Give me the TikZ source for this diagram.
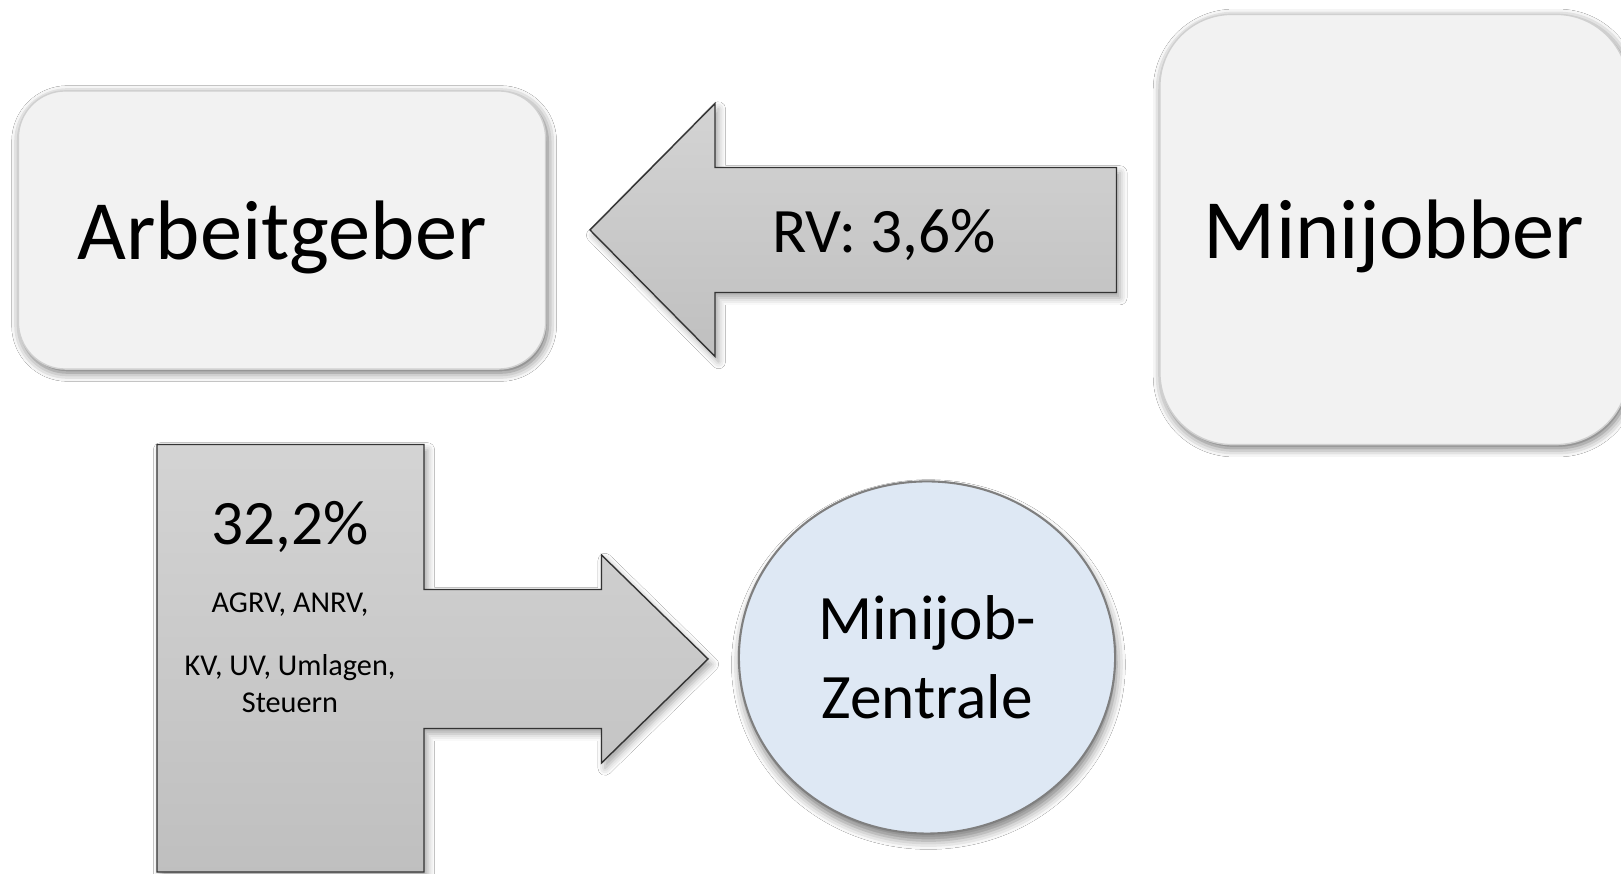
\documentclass[tikz,border=0pt]{standalone}
\usepackage{fontspec}
\setmainfont{Carlito}
\usepackage{xcolor}
\usepackage{tikz}
\usetikzlibrary{positioning, shapes.geometric, shadows.blur}

\definecolor{boxfill}{HTML}{F2F2F2}
\definecolor{boxline}{HTML}{D0D0D0}
\definecolor{zentralefill}{HTML}{DEE8F4}
\definecolor{zentraleline}{HTML}{7F7F7F}

\tikzset{
    partybox/.style={draw=boxline, fill=boxfill, line width=0.4pt, rounded corners=#1,
        inner sep=0pt, text depth=0pt, font=\fontsize{24}{29}\selectfont,
        blur shadow={shadow xshift=0.6pt, shadow yshift=-1pt, shadow blur radius=2.5pt, shadow opacity=60}},
    blockarrow/.style={draw=black!80, line width=0.4pt, top color=black!17, bottom color=black!25,
        blur shadow={shadow xshift=1pt, shadow yshift=-1.5pt, shadow blur radius=2pt, shadow opacity=35}},
    zentrale/.style={ellipse, draw=zentraleline, fill=zentralefill, line width=0.6pt, inner sep=0pt,
        align=center, font=\fontsize{18}{22.4}\selectfont,
        blur shadow={shadow xshift=0.4pt, shadow yshift=-2pt, shadow blur radius=2.5pt, shadow opacity=50}},
    bigtext/.style={font=\fontsize{18}{22.4}\selectfont},
    smalltext/.style={font=\fontsize{8.6}{10.5}\selectfont, align=center}
}

\begin{document}
\begin{tikzpicture}[x=0.01cm, y=-0.01cm]
    \useasboundingbox[fill=white] (0,0) rectangle (1621,874);

    % Arbeitgeber and Minijobber
    \node[partybox=0.47cm, minimum width=5.27cm, minimum height=2.78cm] (arbeitgeber) at (282,230) {Arbeitgeber};
    \node[partybox=0.72cm, minimum width=4.68cm, minimum height=4.30cm] (minijobber) at (1394,229.5) {Minijobber};

    % RV arrow back to the employer
    \draw[blockarrow] (590,230) -- (715,103.5) -- (715,167.5) -- (1116.5,167.5)
        -- (1116.5,292.5) -- (715,292.5) -- (715,356.5) -- cycle;
    \node[bigtext] (rv) at (884,235) {RV: 3,6\%};

    % Payment to the Minijob-Zentrale
    \draw[blockarrow] (157,444.5) -- (424,444.5) -- (424,589.5) -- (601.5,589.5) -- (601.5,555)
        -- (708,659) -- (601.5,763) -- (601.5,728.5) -- (424,728.5) -- (424,872) -- (157,872) -- cycle;
    \node[bigtext] (share) at (290,527) {32,2\%};
    \node[smalltext] (agrv) at (290,605) {AGRV, ANRV,};
    \node[smalltext] (kv) at (290,684) {KV, UV, Umlagen,\\Steuern};

    \node[zentrale, minimum width=3.76cm, minimum height=3.52cm] (zentrale) at (927,657.5) {Minijob-\\Zentrale};
\end{tikzpicture}
\end{document}
